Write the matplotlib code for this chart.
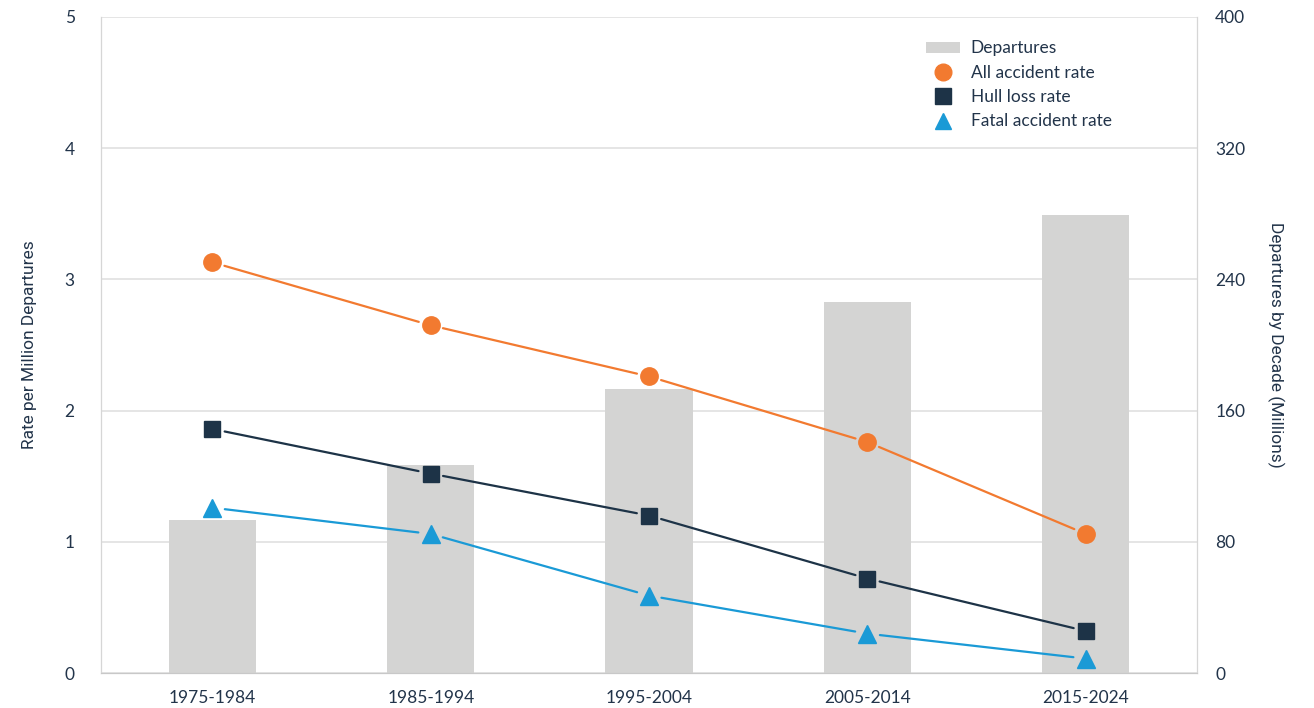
import matplotlib
matplotlib.use('Agg')
import matplotlib.pyplot as plt
from matplotlib.lines import Line2D
from matplotlib.patches import Patch

plt.rcParams['font.family'] = ['Lato', 'DejaVu Sans']

decades = ['1975-1984', '1985-1994', '1995-2004', '2005-2014', '2015-2024']
departures = [93, 127, 173, 226, 279]          # millions per decade
all_accident = [3.13, 2.65, 2.26, 1.76, 1.06]
hull_loss = [1.86, 1.52, 1.20, 0.72, 0.32]
fatal_accident = [1.26, 1.06, 0.59, 0.30, 0.11]

text_color = '#22344a'
bar_color = '#d4d4d3'
grid_color = '#e0e0e0'
series = [
    ('All accident rate', all_accident, '#f27a30', 'o', 12.5),
    ('Hull loss rate', hull_loss, '#1d3347', 's', 12),
    ('Fatal accident rate', fatal_accident, '#1a9ad6', '^', 13),
]

fig = plt.figure(figsize=(13.14, 7.08), dpi=100)
ax2 = fig.add_axes([0.0769, 0.0494, 0.8342, 0.9266])
ax = ax2.twinx()
ax.set_zorder(ax2.get_zorder() + 1)
ax.patch.set_visible(False)

x = list(range(len(decades)))

# departures on the right axis, drawn underneath
ax2.bar(x, departures, width=0.4, color=bar_color, zorder=2)
ax2.set_ylim(0, 400)
ax2.set_yticks([0, 80, 160, 240, 320, 400])
ax2.grid(axis='y', color=grid_color, lw=1.2, zorder=0)
ax2.set_axisbelow(True)
ax2.set_xlim(-0.51, 4.51)
ax2.set_xticks(x)
ax2.set_xticklabels(decades)

# rates on the left axis
ax.set_ylim(0, 5)
ax.set_yticks([0, 1, 2, 3, 4, 5])
for name, vals, color, marker, ms in series:
    ax.plot(x, vals, linestyle='none', marker=marker, ms=ms, color=color, zorder=4)
    for i in range(len(x) - 1):
        ax.annotate('', xy=(x[i + 1], vals[i + 1]), xytext=(x[i], vals[i]),
                    arrowprops=dict(arrowstyle='-', color=color, lw=1.6,
                                    shrinkA=9, shrinkB=9), zorder=3)

# left axis is drawn by ax, right axis by ax2 -> swap tick sides
ax2.yaxis.tick_right()
ax2.yaxis.set_label_position('right')
ax.yaxis.tick_left()
ax.yaxis.set_label_position('left')

for a in (ax, ax2):
    a.tick_params(length=0, labelsize=12.5, colors=text_color)
    a.spines['top'].set_visible(False)
    for s in ('left', 'right'):
        a.spines[s].set_color('#d6d6d6')
    a.spines['bottom'].set_color('#c8c8c8')
ax.tick_params(axis='y', pad=19)
ax2.tick_params(axis='y', pad=13)
ax2.tick_params(axis='x', pad=12)

ax.set_ylabel('Rate per Million Departures', fontsize=12.5, color=text_color,
              labelpad=20, family='Roboto')
ax2.set_ylabel('Departures by Decade (Millions)', fontsize=12.5, color=text_color,
               rotation=-90, labelpad=28, family='Roboto')

handles = [Patch(facecolor=bar_color, edgecolor='none')]
labels = ['Departures']
for name, vals, color, marker, ms in series:
    handles.append(Line2D([], [], linestyle='none', marker=marker, ms=12, color=color))
    labels.append(name)
leg = ax.legend(handles, labels, loc='upper left', bbox_to_anchor=(0.738, 0.988),
                frameon=False, fontsize=12.5, labelspacing=0.48, handlelength=2.0,
                handletextpad=0.6, handleheight=0.55)
for t in leg.get_texts():
    t.set_color(text_color)

fig.savefig('out.png', dpi=100)
